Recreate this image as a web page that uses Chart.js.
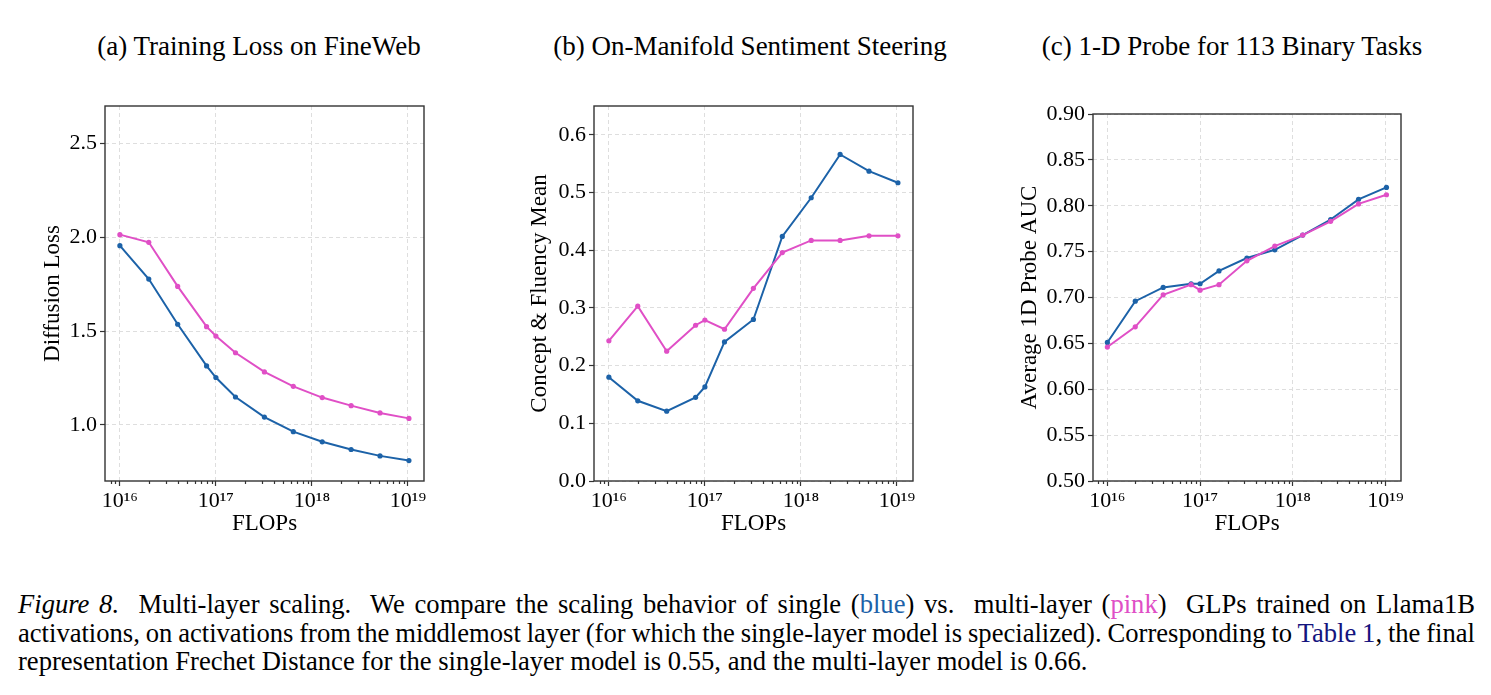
<!DOCTYPE html>
<html>
<head>
<meta charset="utf-8">
<script src="https://cdn.jsdelivr.net/npm/chart.js@4.4.1/dist/chart.umd.min.js"></script>
<style>
  body { margin: 0; background: #fff; width: 1491px; height: 695px; position: relative; overflow: hidden; font-family: 'Liberation Serif', serif; color: #000; }
  canvas { position: absolute; top: 0; }
  .sub { position: absolute; top: 31px; font-size: 27px; line-height: 30px; white-space: nowrap; transform: translateX(-50%); }
  .cap { position: absolute; left: 18px; top: 590px; width: 1457px; font-size: 26.6px; line-height: 28.7px; }
  .cap .j { text-align: justify; text-align-last: justify; }
  .cap .tight { word-spacing: -3px; }
  .blue { color: #1c62a8; }
  .pink { color: #e04fc6; }
  .ref { color: #14147e; }
</style>
</head>
<body>
<div class="sub" style="left:259px">(a) Training Loss on FineWeb</div>
<div class="sub" style="left:750px">(b) On-Manifold Sentiment Steering</div>
<div class="sub" style="left:1232px">(c) 1-D Probe for 113 Binary Tasks</div>

<canvas id="lossChart" width="470" height="560" style="left:0px"></canvas>
<canvas id="steerChart" width="470" height="560" style="left:490px"></canvas>
<canvas id="probeChart" width="470" height="560" style="left:990px"></canvas>

<div class="cap">
  <div class="j"><i>Figure 8.</i>&nbsp; Multi-layer scaling.&nbsp; We compare the scaling behavior of single (<span class="blue">blue</span>) vs.&nbsp; multi-layer (<span class="pink">pink</span>)&nbsp; GLPs trained on Llama1B</div>
  <div class="j tight">activations, on activations from the middlemost layer (for which the single-layer model is specialized). Corresponding to <span class="ref">Table 1</span>, the final</div>
  <div>representation Frechet Distance for the single-layer model is 0.55, and the multi-layer model is 0.66.</div>
</div>

<script>
// training compute of each checkpoint
const flops = [1e16, 2e16, 4e16, 8e16, 1e17, 1.6e17, 3.2e17, 6.4e17, 1.28e18, 2.56e18, 5.12e18, 1.024e19];

// (a) diffusion loss
const lossSingle = [1.955, 1.777, 1.536, 1.314, 1.252, 1.148, 1.041, 0.963, 0.909, 0.868, 0.834, 0.809];
const lossMulti  = [2.014, 1.973, 1.738, 1.523, 1.473, 1.384, 1.282, 1.205, 1.145, 1.102, 1.063, 1.034];

// (b) concept & fluency mean
const steerSingle = [0.180, 0.139, 0.121, 0.145, 0.163, 0.241, 0.280, 0.424, 0.491, 0.566, 0.537, 0.517];
const steerMulti  = [0.243, 0.303, 0.225, 0.270, 0.279, 0.263, 0.334, 0.396, 0.417, 0.417, 0.425, 0.425];

// (c) average 1D probe AUC
const probeSingle = [0.651, 0.696, 0.711, 0.715, 0.715, 0.729, 0.743, 0.752, 0.768, 0.785, 0.807, 0.820];
const probeMulti  = [0.646, 0.668, 0.703, 0.714, 0.708, 0.714, 0.740, 0.756, 0.768, 0.783, 0.802, 0.812];

const xTickValues = [1e16, 1e17, 1e18, 1e19];
const xTickLabels = ['10¹⁶', '10¹⁷', '10¹⁸', '10¹⁹'];
const lossTicks = [1.0, 1.5, 2.0, 2.5];
const steerTicks = [0.0, 0.1, 0.2, 0.3, 0.4, 0.5, 0.6];
const probeTicks = [0.50, 0.55, 0.60, 0.65, 0.70, 0.75, 0.80, 0.85, 0.90];

const BLUE = '#1c62a8';
const PINK = '#e04fc6';
const FONT = "'Liberation Serif', serif";
const GRID = '#dedede';
const AXIS = '#333';

function minorTicks(min, max) {
    const out = [];
    for (let e = 15; e <= 19; e++) {
        for (let m = 2; m <= 9; m++) {
            const v = m * Math.pow(10, e);
            if (v > min && v < max) out.push(v);
        }
    }
    return out;
}

// box around the axes + small minor ticks on the log axis
const framePlugin = {
    id: 'frame',
    afterDatasetsDraw(chart) {
        const { ctx, chartArea: a } = chart;
        const x = chart.scales.x;
        ctx.save();
        ctx.strokeStyle = AXIS;
        ctx.lineWidth = 1.2;
        ctx.beginPath();
        minorTicks(x.min, x.max).forEach(v => {
            const px = Math.round(x.getPixelForValue(v)) + 0.5;
            ctx.moveTo(px, a.bottom);
            ctx.lineTo(px, a.bottom + 3);
        });
        ctx.stroke();
        ctx.lineWidth = 1.4;
        ctx.strokeRect(a.left, a.top, a.right - a.left, a.bottom - a.top);
        ctx.restore();
    }
};

function makeChart(id, cfg) {
    const ctx = document.getElementById(id).getContext('2d');
    return new Chart(ctx, {
        type: 'line',
        data: {
            datasets: [
                {
                    label: 'single-layer',
                    data: flops.map((f, i) => ({ x: f, y: cfg.single[i] })),
                    borderColor: BLUE,
                    backgroundColor: BLUE,
                    order: 1
                },
                {
                    label: 'multi-layer',
                    data: flops.map((f, i) => ({ x: f, y: cfg.multi[i] })),
                    borderColor: PINK,
                    backgroundColor: PINK,
                    order: 0
                }
            ]
        },
        options: {
            responsive: false,
            animation: false,
            layout: { padding: cfg.pad },
            elements: {
                line: { borderWidth: 2, tension: 0 },
                point: { radius: 2.6, borderWidth: 0, hoverRadius: 2.6 }
            },
            plugins: {
                legend: { display: false },
                tooltip: { enabled: false }
            },
            scales: {
                x: {
                    type: 'logarithmic',
                    min: 7e15,
                    max: 1.47e19,
                    afterBuildTicks: s => { s.ticks = xTickValues.map(v => ({ value: v })); },
                    afterFit: s => { s.height = 70; },
                    ticks: {
                        autoSkip: false,
                        maxRotation: 0,
                        padding: 2,
                        color: '#000',
                        font: { family: FONT, size: 22 },
                        callback: (v, i) => xTickLabels[i]
                    },
                    grid: { color: GRID, tickColor: AXIS, tickLength: 5, tickWidth: 1.2 },
                    border: { display: false, dash: [4, 3] },
                    title: {
                        display: true,
                        text: 'FLOPs',
                        color: '#000',
                        font: { family: FONT, size: 23 },
                        padding: { top: 0, bottom: 13 }
                    }
                },
                y: {
                    min: cfg.yMin,
                    max: cfg.yMax,
                    afterBuildTicks: s => { s.ticks = cfg.yTicks.map(v => ({ value: v })); },
                    afterFit: s => { s.width = 85; },
                    ticks: {
                        autoSkip: false,
                        padding: 3,
                        color: '#000',
                        font: { family: FONT, size: 22 },
                        callback: v => v.toFixed(cfg.decimals)
                    },
                    grid: { color: GRID, tickColor: AXIS, tickLength: 5, tickWidth: 1.2 },
                    border: { display: false, dash: [4, 3] },
                    title: {
                        display: true,
                        text: cfg.yLabel,
                        color: '#000',
                        font: { family: FONT, size: 23 },
                        padding: { top: cfg.yTitlePad, bottom: 0 }
                    }
                }
            }
        },
        plugins: [framePlugin]
    });
}

makeChart('lossChart', {
    single: lossSingle, multi: lossMulti,
    yMin: 0.7, yMax: 2.7, yTicks: lossTicks, decimals: 1,
    yLabel: 'Diffusion Loss', yTitlePad: 19,
    pad: { left: 20, right: 46, top: 106, bottom: 9 }
});

makeChart('steerChart', {
    single: steerSingle, multi: steerMulti,
    yMin: 0, yMax: 0.65, yTicks: steerTicks, decimals: 1,
    yLabel: 'Concept & Fluency Mean', yTitlePad: 17,
    pad: { left: 19, right: 47, top: 106, bottom: 9 }
});

makeChart('probeChart', {
    single: probeSingle, multi: probeMulti,
    yMin: 0.5, yMax: 0.9, yTicks: probeTicks, decimals: 2,
    yLabel: 'Average 1D Probe AUC', yTitlePad: 8,
    pad: { left: 18, right: 59, top: 114, bottom: 9 }
});
</script>
</body>
</html>
